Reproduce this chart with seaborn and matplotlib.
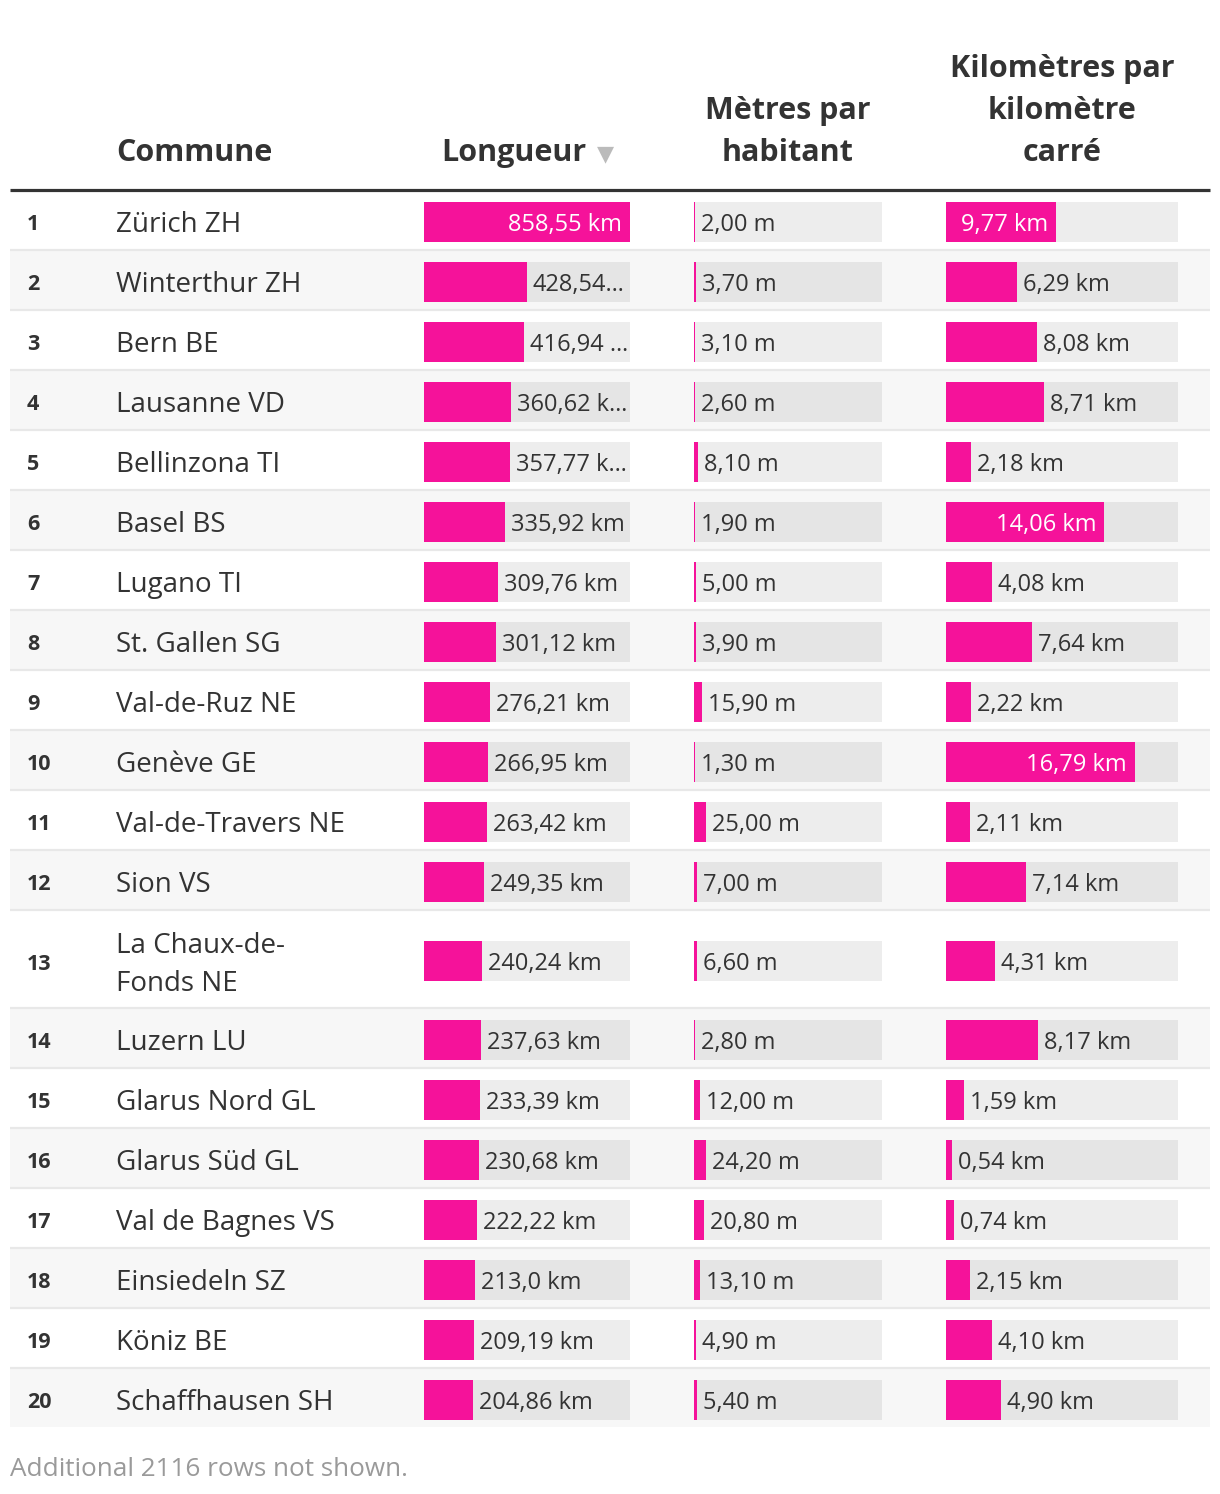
import matplotlib
matplotlib.use("Agg")
import matplotlib.pyplot as plt
from matplotlib.transforms import offset_copy
import numpy as np
import pandas as pd
import seaborn as sns

# ---- data -------------------------------------------------------------
ranks = list(range(1, 21))
communes = [
    "Zürich ZH", "Winterthur ZH", "Bern BE", "Lausanne VD", "Bellinzona TI",
    "Basel BS", "Lugano TI", "St. Gallen SG", "Val-de-Ruz NE", "Genève GE",
    "Val-de-Travers NE", "Sion VS", "La Chaux-de-\nFonds NE", "Luzern LU",
    "Glarus Nord GL", "Glarus Süd GL", "Val de Bagnes VS", "Einsiedeln SZ",
    "Köniz BE", "Schaffhausen SH",
]
longueur_km = [858.55, 428.54, 416.94, 360.62, 357.77, 335.92, 309.76, 301.12,
               276.21, 266.95, 263.42, 249.35, 240.24, 237.63, 233.39, 230.68,
               222.22, 213.0, 209.19, 204.86]
longueur_labels = ["858,55 km", "428,54 km", "416,94 km", "360,62 km", "357,77 km",
                   "335,92 km", "309,76 km", "301,12 km", "276,21 km", "266,95 km",
                   "263,42 km", "249,35 km", "240,24 km", "237,63 km", "233,39 km",
                   "230,68 km", "222,22 km", "213,0 km", "209,19 km", "204,86 km"]
metres_hab = [2.00, 3.70, 3.10, 2.60, 8.10, 1.90, 5.00, 3.90, 15.90, 1.30,
              25.00, 7.00, 6.60, 2.80, 12.00, 24.20, 20.80, 13.10, 4.90, 5.40]
km_par_km2 = [9.77, 6.29, 8.08, 8.71, 2.18, 14.06, 4.08, 7.64, 2.22, 16.79,
              2.11, 7.14, 4.31, 8.17, 1.59, 0.54, 0.74, 2.15, 4.10, 4.90]
footer = "Additional 2116 rows not shown."

# ---- style ------------------------------------------------------------
W, H = 1220, 1494
PINK = "#f5129a"
DARK = "#333333"
FONT = ["Open Sans", "DejaVu Sans"]

sns.set_theme(style="white")
plt.rcParams["font.family"] = FONT

fig = plt.figure(figsize=(W / 100, H / 100), dpi=100)
renderer = fig.canvas.get_renderer()

bg = fig.add_axes([0, 0, 1, 1])
bg.set_xlim(0, W)
bg.set_ylim(H, 0)
bg.axis("off")

# row geometry: one extra line for wrapped commune names
n_lines = np.array([c.count("\n") + 1 for c in communes])
heights = 60 + 38 * (n_lines - 1)
tops = 191 + np.concatenate([[0], np.cumsum(heights)[:-1]])
centers = tops + heights / 2 + 1
text_y = centers + 3

for i, (top, h) in enumerate(zip(tops, heights)):
    if i % 2 == 1:
        bg.axhspan(top - 1, top + h - 2, xmin=10 / W, xmax=1210 / W,
                   color="#f7f7f7", lw=0, zorder=0)
    if i < len(tops) - 1:
        bg.hlines(top + h - 1, 10, 1210, color="#e8e8e8", lw=1.6, zorder=1)

bg.hlines(189.5, 10, 1210, color=DARK, lw=2.3)

# rank and name columns
for r, name, y in zip(ranks, communes, text_y):
    bg.text(27, y, str(r), fontsize=15.5, fontweight="bold", color=DARK,
            ha="left", va="center")
    bg.text(116, y + (1 if "\n" in name else 0), name, fontsize=20, color=DARK,
            ha="left", va="center", linespacing=1.45)

# headers
hkw = dict(fontsize=22, fontweight="bold", color=DARK, va="baseline")
bg.text(116, 161, "Commune", ha="left", **hkw)
bg.text(586, 161, "Longueur", ha="right", **hkw)
bg.text(597, 160, "▼", ha="left", va="baseline", fontsize=16,
        color="#bbbbbb", family=["DejaVu Sans"])
bg.text(788, 119, "Mètres par", ha="center", **hkw)
bg.text(788, 161, "habitant", ha="center", **hkw)
bg.text(1062, 77, "Kilomètres par", ha="center", **hkw)
bg.text(1062, 119, "kilomètre", ha="center", **hkw)
bg.text(1062, 161, "carré", ha="center", **hkw)

bg.text(10, 1476, footer, fontsize=18.8, color="#9a9a9a", ha="left",
        va="baseline")


def text_width(s, size):
    t = bg.text(0, 0, s, fontsize=size)
    w = t.get_window_extent(renderer).width
    t.remove()
    return w


def fit_label(s, avail, size):
    if text_width(s, size) <= avail:
        return s
    while s and text_width(s + "…", size) > avail:
        s = s[:-1]
    return s + "…"


VAL_SIZE = 17
columns = [
    (longueur_km, longueur_labels, 424, 630, max(longueur_km)),
    (metres_hab, [f"{v:.2f} m".replace(".", ",") for v in metres_hab], 694, 882, 390),
    (km_par_km2, [f"{v:.2f} km".replace(".", ",") for v in km_par_km2], 946, 1178, 20.6),
]

for values, labels, x0, x1, domain in columns:
    ax = fig.add_axes([x0 / W, 0, (x1 - x0) / W, 1])
    df = pd.DataFrame({"value": values, "track": domain, "y": centers})
    sns.barplot(data=df, x="track", y="y", orient="h", native_scale=True,
                width=40 / 60, color="black", alpha=0.07, saturation=1,
                errorbar=None, linewidth=0, ax=ax)
    sns.barplot(data=df, x="value", y="y", orient="h", native_scale=True,
                width=40 / 60, color=PINK, saturation=1,
                errorbar=None, linewidth=0, ax=ax)
    ax.set_xlim(0, domain)
    ax.set_ylim(H, 0)
    ax.axis("off")

    track_px = x1 - x0
    inside_tr = offset_copy(ax.transData, fig=fig, x=-8, y=0, units="dots")
    outside_tr = offset_copy(ax.transData, fig=fig, x=6, y=0, units="dots")
    for v, lab, y in zip(values, labels, text_y):
        bar_px = v / domain * track_px
        w = text_width(lab, VAL_SIZE)
        if bar_px >= w + 16:
            ax.text(v, y, lab, fontsize=VAL_SIZE, color="white", ha="right",
                    va="center", transform=inside_tr)
        else:
            lab = fit_label(lab, track_px - bar_px - 7, VAL_SIZE)
            ax.text(v, y, lab, fontsize=VAL_SIZE, color=DARK, ha="left",
                    va="center", transform=outside_tr)

fig.savefig("out.png", dpi=100)
